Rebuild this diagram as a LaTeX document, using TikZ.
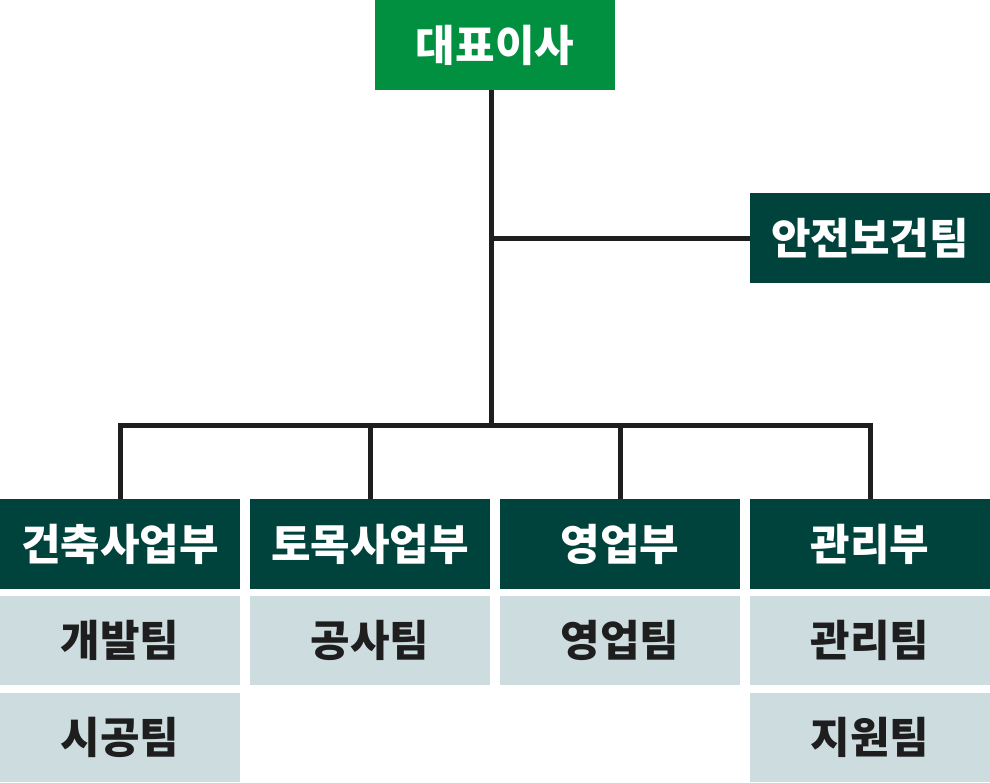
\documentclass[tikz,border=0pt]{standalone}
\usepackage{fontspec}
\newfontfamily\kr{Noto Sans CJK KR}
\definecolor{topgreen}{HTML}{00903F}
\definecolor{deptgreen}{HTML}{00433D}
\definecolor{subgray}{HTML}{CDDCDF}
\definecolor{linec}{HTML}{1E1E1E}
\tikzset{
  box/.style={minimum width=240pt, minimum height=90pt, inner sep=0pt, outer sep=0pt, font=\kr\bfseries\fontsize{43}{45}\selectfont},
  topbox/.style={box, fill=topgreen, text=white},
  deptbox/.style={box, fill=deptgreen, text=white},
  subbox/.style={box, minimum height=89pt, fill=subgray, text=linec},
  conn/.style={draw=linec, line width=5pt},
}
\begin{document}
\begin{tikzpicture}[x=1pt,y=-1pt]
\useasboundingbox (0,0) rectangle (990,782);
\node[topbox] (ceo) at (495,45) {대표이사};
\node[deptbox] (safety) at (870,238) {안전보건팀};
\node[deptbox] (d1) at (120,544) {건축사업부};
\node[deptbox] (d2) at (370,544) {토목사업부};
\node[deptbox] (d3) at (620,544) {영업부};
\node[deptbox] (d4) at (870,544) {관리부};
\node[subbox] (s11) at (120,640.5) {개발팀};
\node[subbox] (s12) at (120,737) {시공팀};
\node[subbox] (s21) at (370,640.5) {공사팀};
\node[subbox] (s31) at (620,640.5) {영업팀};
\node[subbox] (s41) at (870,640.5) {관리팀};
\node[subbox] (s42) at (870,737) {지원팀};
\coordinate (jct) at (491,238);
\coordinate (bus) at (491,425.5);
\draw[conn] (ceo.south -| jct) -- (bus);
\draw[conn] (jct) -- (safety.west);
\draw[conn] (bus) -- (bus -| d1.north) -- (d1.north);
\draw[conn] (bus) -- (bus -| d4.north) -- (d4.north);
\draw[conn] (bus -| d2.north) -- (d2.north);
\draw[conn] (bus -| d3.north) -- (d3.north);
\end{tikzpicture}
\end{document}
